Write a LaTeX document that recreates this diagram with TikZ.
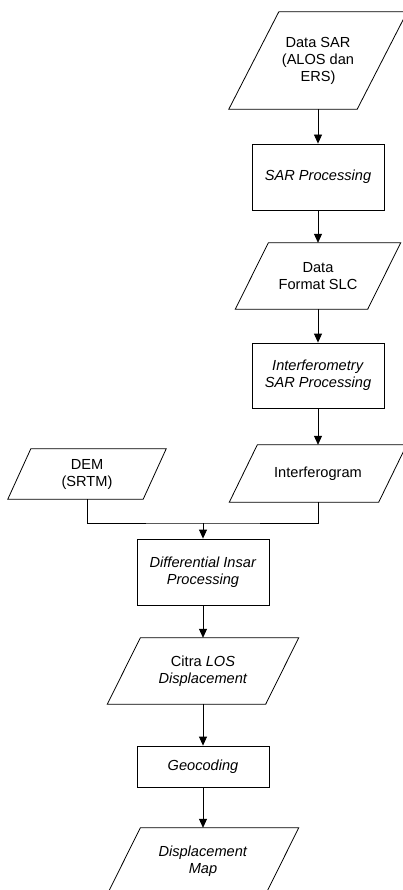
\documentclass[tikz,border=0pt]{standalone}
\usepackage{fontspec}
\setmainfont{Liberation Sans}
\usetikzlibrary{arrows.meta}
\begin{document}
\begin{tikzpicture}[x=1pt,y=-1pt,
  txt/.style={inner sep=0pt, align=center, font=\fontsize{14.6}{17}\selectfont},
  proc/.style={txt, draw, line width=0.8pt, minimum width=132pt, minimum height=#1},
  io/.style n args={2}{txt, minimum width=#1, minimum height=#2},
  shapeline/.style={line width=0.8pt, line join=miter},
  conn/.style={line width=0.8pt},
  arr/.style={conn, -{Triangle[length=9pt,width=8pt]}}]
\useasboundingbox (0,0) rectangle (403,890);
\clip (0,0) rectangle (403,890);

\node[io={128pt}{97pt}] (dsar) at (318,60.5) {Data SAR\\(ALOS dan\\ERS)};
\node[proc=66pt] (sarp) at (318,177) {\textit{SAR Processing}};
\node[io={132pt}{66pt}] (slc) at (318,276) {Data\\Format SLC};
\node[proc=65pt] (insarp) at (318,375.5) {\textit{Interferometry}\\\textit{SAR Processing}};
\node[io={149pt}{57pt}] (ifg) at (318,473.5) {Interferogram};
\node[io={135pt}{50pt}] (dem) at (87,474) {DEM\\(SRTM)};
\node[proc=66pt] (dinsar) at (203,572) {\textit{Differential Insar}\\\textit{Processing}};
\node[io={158pt}{66pt}] (citra) at (203,671) {Citra \textit{LOS}\\\textit{Displacement}};
\node[proc=41pt] (geo) at (203,766.5) {\textit{Geocoding}};
\node[io={158pt}{66pt}] (dmap) at (203,861) {\textit{Displacement}\\\textit{Map}};

\foreach \n/\s in {dsar/25,slc/16.5,ifg/14,dem/11.5,citra/16.5,dmap/16.5}
  \draw[shapeline] ([xshift=-\s pt]\n.south west) -- ([xshift=-\s pt]\n.south east)
    -- ([xshift=\s pt]\n.north east) -- ([xshift=\s pt]\n.north west) -- cycle;

\coordinate (j) at (203,523);
\draw[arr] (dsar.south) -- (sarp.north);
\draw[arr] (sarp.south) -- (slc.north);
\draw[arr] (slc.south) -- (insarp.north);
\draw[arr] (insarp.south) -- (ifg.north);
\draw[conn] (dem.south) |- (j) -| (ifg.south);
\draw[arr] (j) -- (dinsar.north);
\draw[arr] (dinsar.south) -- (citra.north);
\draw[arr] (citra.south) -- (geo.north);
\draw[arr] (geo.south) -- (dmap.north);
\end{tikzpicture}
\end{document}
